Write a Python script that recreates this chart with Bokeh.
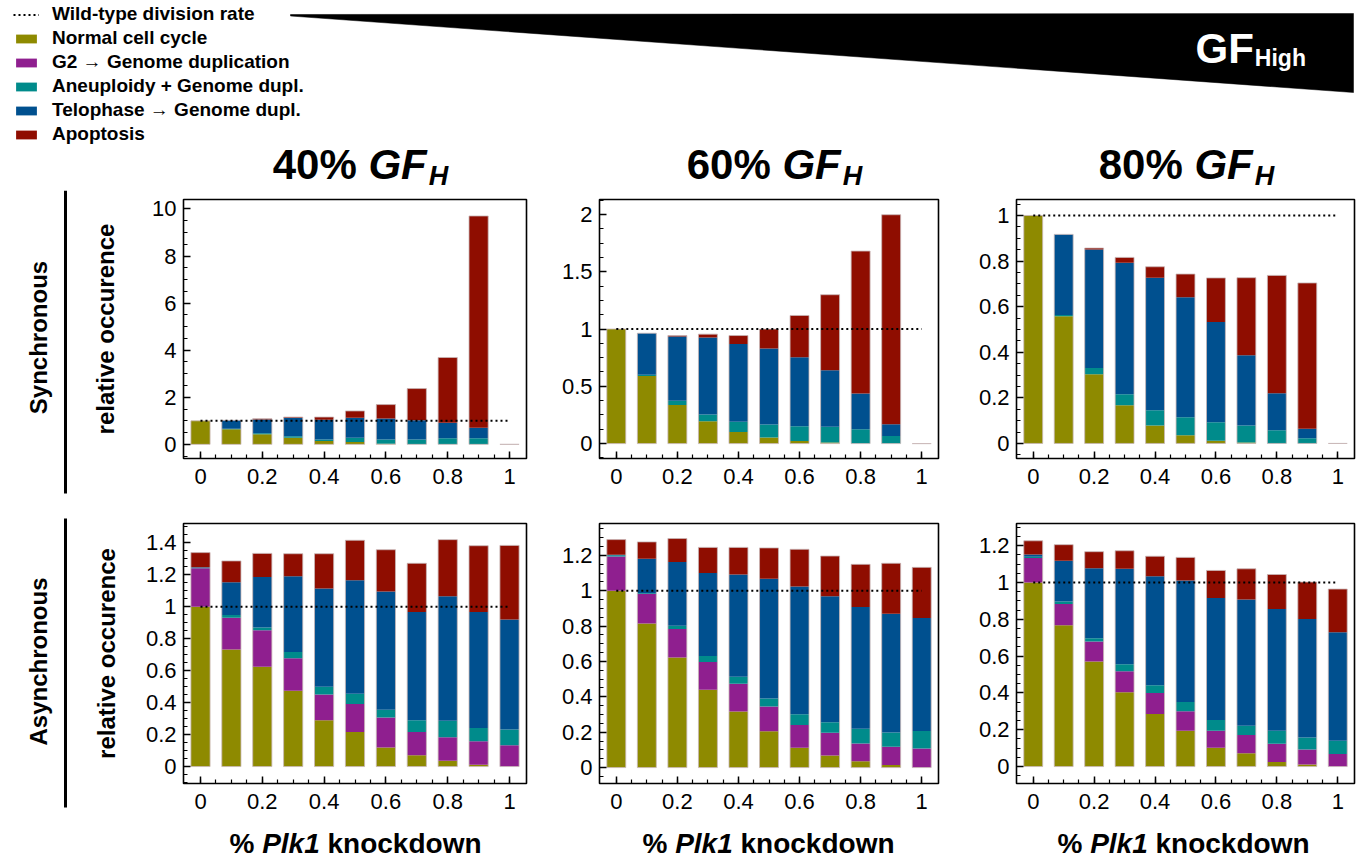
import numpy as np
from bokeh.plotting import figure
from bokeh.layouts import row, column
from bokeh.models import (FixedTicker, CustomJSTickFormatter, Legend, LegendItem, Range1d)
from bokeh.embed import file_html
from bokeh.resources import INLINE
from bokeh.core.properties import value

# ---------------- data ----------------
KNOCKDOWN = [0.0, 0.1, 0.2, 0.3, 0.4, 0.5, 0.6, 0.7, 0.8, 0.9, 1.0]
WT_RATE = 1.0
SERIES = ["Normal cell cycle", "G2 \u2192 Genome duplication", "Aneuploidy + Genome dupl.",
          "Telophase \u2192 Genome dupl.", "Apoptosis"]
COLORS = ["#8e8a00", "#8f1f8f", "#008b8b", "#00508f", "#8f0d00"]
WT_LABEL = "Wild-type division rate"
GF_LEVELS = ["40%", "60%", "80%"]
ROW_LABELS = ["Synchronous", "Asynchronous"]

# cumulative stack tops, bottom to top: normal, G2, aneuploidy, telophase, apoptosis
sync40_normal = [1.00, 0.64, 0.43, 0.28, 0.14, 0.10, 0.03, 0.01, 0.00, 0.00, 0.00]
sync40_g2     = [1.00, 0.64, 0.43, 0.28, 0.14, 0.10, 0.03, 0.01, 0.00, 0.00, 0.00]
sync40_aneu   = [1.00, 0.66, 0.47, 0.35, 0.21, 0.28, 0.21, 0.21, 0.26, 0.26, 0.00]
sync40_telo   = [1.00, 1.02, 1.06, 1.13, 1.05, 1.13, 1.10, 1.02, 0.92, 0.71, 0.00]
sync40_apop   = [1.00, 1.02, 1.09, 1.16, 1.16, 1.42, 1.69, 2.37, 3.69, 9.70, 0.00]

sync60_normal = [1.00, 0.590, 0.336, 0.196, 0.102, 0.053, 0.023, 0.009, 0.0, 0.0, 0.0]
sync60_g2     = [1.00, 0.590, 0.336, 0.196, 0.102, 0.053, 0.023, 0.009, 0.0, 0.0, 0.0]
sync60_aneu   = [1.00, 0.600, 0.374, 0.254, 0.190, 0.166, 0.152, 0.146, 0.126, 0.067, 0.0]
sync60_telo   = [1.00, 0.963, 0.934, 0.926, 0.870, 0.829, 0.753, 0.639, 0.438, 0.169, 0.0]
sync60_apop   = [1.00, 0.963, 0.943, 0.955, 0.943, 0.999, 1.118, 1.299, 1.680, 1.997, 0.0]

sync80_normal = [1.0, 0.558, 0.304, 0.168, 0.079, 0.036, 0.012, 0.004, 0.0, 0.0, 0.0]
sync80_g2     = [1.0, 0.558, 0.304, 0.168, 0.079, 0.036, 0.012, 0.004, 0.0, 0.0, 0.0]
sync80_aneu   = [1.0, 0.563, 0.331, 0.216, 0.146, 0.115, 0.093, 0.079, 0.058, 0.023, 0.0]
sync80_telo   = [1.0, 0.917, 0.851, 0.793, 0.727, 0.641, 0.533, 0.387, 0.220, 0.064, 0.0]
sync80_apop   = [1.0, 0.917, 0.857, 0.816, 0.775, 0.743, 0.726, 0.727, 0.737, 0.704, 0.0]

async40_normal = [1.000, 0.732, 0.624, 0.474, 0.289, 0.216, 0.119, 0.071, 0.037, 0.012, 0.000]
async40_g2     = [1.240, 0.930, 0.853, 0.678, 0.451, 0.391, 0.306, 0.216, 0.183, 0.158, 0.133]
async40_aneu   = [1.243, 0.947, 0.870, 0.716, 0.499, 0.456, 0.356, 0.289, 0.287, 0.241, 0.231]
async40_telo   = [1.246, 1.152, 1.186, 1.190, 1.113, 1.165, 1.094, 0.967, 1.065, 0.967, 0.919]
async40_apop   = [1.338, 1.286, 1.333, 1.331, 1.331, 1.415, 1.356, 1.271, 1.419, 1.381, 1.383]

async60_normal = [1.000, 0.815, 0.622, 0.440, 0.317, 0.205, 0.112, 0.068, 0.036, 0.015, 0.000]
async60_g2     = [1.194, 0.982, 0.783, 0.597, 0.474, 0.345, 0.241, 0.197, 0.136, 0.118, 0.108]
async60_aneu   = [1.200, 0.986, 0.802, 0.631, 0.514, 0.390, 0.301, 0.256, 0.220, 0.199, 0.207]
async60_telo   = [1.204, 1.181, 1.162, 1.100, 1.092, 1.067, 1.024, 0.969, 0.908, 0.870, 0.846]
async60_apop   = [1.289, 1.276, 1.295, 1.245, 1.245, 1.242, 1.234, 1.196, 1.149, 1.155, 1.132]

async80_normal = [1.000, 0.767, 0.571, 0.404, 0.285, 0.194, 0.102, 0.072, 0.025, 0.011, 0.000]
async80_g2     = [1.133, 0.883, 0.679, 0.517, 0.399, 0.300, 0.194, 0.171, 0.124, 0.092, 0.068]
async80_aneu   = [1.140, 0.896, 0.697, 0.555, 0.442, 0.350, 0.253, 0.221, 0.194, 0.158, 0.140]
async80_telo   = [1.151, 1.118, 1.077, 1.074, 1.034, 1.011, 0.916, 0.907, 0.856, 0.801, 0.729]
async80_apop   = [1.226, 1.205, 1.167, 1.172, 1.142, 1.136, 1.065, 1.074, 1.043, 1.002, 0.964]

X_TICKS = [0, 0.2, 0.4, 0.6, 0.8, 1]
Y_TICKS = {
    "s40": [0, 2, 4, 6, 8, 10],
    "s60": [0, 0.5, 1, 1.5, 2],
    "s80": [0, 0.2, 0.4, 0.6, 0.8, 1],
    "a40": [0, 0.2, 0.4, 0.6, 0.8, 1, 1.2, 1.4],
    "a60": [0, 0.2, 0.4, 0.6, 0.8, 1, 1.2],
    "a80": [0, 0.2, 0.4, 0.6, 0.8, 1, 1.2],
}

# ---------------- styling ----------------
FONT = "Liberation Sans"
BAR_W = 0.062
HB = {'0': 556, '1': 556, '2': 556, '3': 556, '4': 556, '5': 556, '6': 556, '7': 556, '8': 556,
      '9': 556, '%': 889, ' ': 278, 'G': 778, 'F': 611, 'H': 722, 'P': 667, 'l': 278, 'k': 556,
      'n': 611, 'o': 611, 'c': 556, 'w': 778, 'd': 611, 'i': 278, 'g': 611, 'h': 611}


def tw(s, size):
    return sum(HB.get(ch, 556) for ch in s) * size / 1000.0


fmt = CustomJSTickFormatter(code="return String(Math.round(tick*1000)/1000);")


def minor_list(ticks, lo, hi):
    step = (ticks[1] - ticks[0]) / 4.0
    return [v for v in np.arange(ticks[0] - 4 * step, ticks[-1] + 4 * step + 1e-9, step) if lo <= v <= hi]


def panel(tops, yr, yticks, width, mbl, mbr, height, mbt, mbb, ylabel=None, lab_standoff=20):
    p = figure(width=width, height=height, x_range=Range1d(-0.055, 1.055), y_range=Range1d(*yr),
               min_border_left=mbl, min_border_right=mbr, min_border_top=mbt, min_border_bottom=mbb,
               toolbar_location=None, tools="", output_backend="svg")
    p.xgrid.visible = False
    p.ygrid.visible = False
    p.outline_line_color = "black"
    p.outline_line_width = 1.6
    p.background_fill_color = "white"
    prev = [0.0] * len(KNOCKDOWN)
    for t, c in zip(tops, COLORS):
        p.vbar(x=KNOCKDOWN, bottom=prev, top=t, width=BAR_W, fill_color=c, line_color=None)
        prev = t
    p.vbar(x=KNOCKDOWN, bottom=0, top=prev, width=BAR_W, fill_color=None,
           line_color="#c8b6b6", line_width=0.8)
    p.line(x=[KNOCKDOWN[0], KNOCKDOWN[-1]], y=[WT_RATE, WT_RATE], line_dash="2 3",
           line_width=2, line_color="black")
    p.xaxis.ticker = FixedTicker(ticks=X_TICKS, minor_ticks=list(np.arange(0, 1.0001, 0.05)))
    p.yaxis.ticker = FixedTicker(ticks=yticks, minor_ticks=minor_list(yticks, yr[0], yr[1]))
    for ax in (p.xaxis[0], p.yaxis[0]):
        ax.formatter = fmt
        ax.axis_line_color = None
        ax.major_tick_in = 7
        ax.major_tick_out = 0
        ax.minor_tick_in = 4
        ax.minor_tick_out = 0
        ax.major_tick_line_width = 1.5
        ax.minor_tick_line_width = 1.2
        ax.major_tick_line_color = "black"
        ax.minor_tick_line_color = "black"
        ax.major_label_text_font = FONT
        ax.major_label_text_font_size = "22px"
        ax.major_label_text_color = "black"
    p.xaxis.major_label_standoff = 10
    p.yaxis.major_label_standoff = 7
    if ylabel:
        p.yaxis.axis_label = ylabel
        p.yaxis.axis_label_text_font = FONT
        p.yaxis.axis_label_text_font_size = "24px"
        p.yaxis.axis_label_text_font_style = "bold"
        p.yaxis.axis_label_text_color = "black"
        p.yaxis.axis_label_standoff = lab_standoff
    return p


# column geometry (width, min_border_left, min_border_right) -- page starts at x=0
COLS = [(476, 103, 30), (419, 43, 37), (386, 38, 7)]
R1 = (323, 9, 55)     # page y 190..513, frame 199..458
R2 = (305, 10, 35)    # page y 513..818, frame 523..783

sync_tops = [
    [sync40_normal, sync40_g2, sync40_aneu, sync40_telo, sync40_apop],
    [sync60_normal, sync60_g2, sync60_aneu, sync60_telo, sync60_apop],
    [sync80_normal, sync80_g2, sync80_aneu, sync80_telo, sync80_apop],
]
async_tops = [
    [async40_normal, async40_g2, async40_aneu, async40_telo, async40_apop],
    [async60_normal, async60_g2, async60_aneu, async60_telo, async60_apop],
    [async80_normal, async80_g2, async80_aneu, async80_telo, async80_apop],
]
sync_yr = [(-0.6, 10.4), (-0.13, 2.13), (-0.066, 1.07)]
async_yr = [(-0.106, 1.52), (-0.09, 1.38), (-0.092, 1.32)]
sync_keys = ["s40", "s60", "s80"]
async_keys = ["a40", "a60", "a80"]

row1 = []
row2 = []
for i in range(3):
    w, l, r = COLS[i]
    row1.append(panel(sync_tops[i], sync_yr[i], Y_TICKS[sync_keys[i]], w, l, r, *R1,
                      ylabel="relative occurence" if i == 0 else None, lab_standoff=30))
    row2.append(panel(async_tops[i], async_yr[i], Y_TICKS[async_keys[i]], w, l, r, *R2,
                      ylabel="relative occurence" if i == 0 else None, lab_standoff=23))


def blank(width, height, xr, yr):
    p = figure(width=width, height=height, x_range=Range1d(*xr), y_range=Range1d(*yr),
               min_border=0, toolbar_location=None, tools="", output_backend="svg",
               x_axis_location=None, y_axis_location=None)
    p.grid.visible = False
    p.outline_line_color = None
    return p


FULL_W = 1361
# ---------------- header (page y 0..190) ----------------
HDR_H = 190
hdr = blank(FULL_W, HDR_H, (0, FULL_W), (0, HDR_H))


def py(y):  # page y -> header data y
    return HDR_H - y


def htext(fig, x, y, t, size, style, color="black"):
    # y is the vertical centre of the capital letters (page pixels)
    fig.text(x=[x], y=[y], text=[t], text_font=value(FONT), text_font_size=f"{size}px",
             text_font_style=style, text_color=color, text_baseline="middle", text_align="left")


# wedge
hdr.patch(x=[290, 1353, 1353, 290], y=[py(14), py(13), py(92), py(15.5)],
          fill_color="black", line_color="black", line_width=0.5)
GF_F = 42
htext(hdr, 1195, py(48), "GF", GF_F, "bold", "white")
htext(hdr, 1195 + tw("GF", GF_F) + 1, py(57), "High", 23, "bold", "white")

# column titles
TITLE_F = 42
SUB_F = 27
title_centers = [360, 774, 1186]
for lvl, cx in zip(GF_LEVELS, title_centers):
    total = tw(lvl, TITLE_F) + tw(" ", TITLE_F) + tw("GF", TITLE_F) + 2 + tw("H", SUB_F)
    x0 = cx - total / 2
    htext(hdr, x0, py(164), lvl, TITLE_F, "bold")
    x1 = x0 + tw(lvl, TITLE_F) + tw(" ", TITLE_F)
    htext(hdr, x1, py(164), "GF", TITLE_F, "bold italic")
    x2 = x1 + tw("GF", TITLE_F) + 2
    htext(hdr, x2, py(175), "H", SUB_F, "bold italic")

# legend (renderers hold one off-screen point so that their legend glyphs are drawn)
wt_r = hdr.line(x=[-100, -90], y=[-100, -100], line_dash="2 3", line_width=2, line_color="black")
bar_rs = [hdr.vbar(x=[-100], bottom=[-100], top=[-90], width=1, fill_color=c, line_color=None)
          for c in COLORS]
items = [LegendItem(label=WT_LABEL, renderers=[wt_r])]
items += [LegendItem(label=s, renderers=[r]) for s, r in zip(SERIES, bar_rs)]
LEG_ROW = 24
leg = Legend(items=items, location=(13, HDR_H - 2 - 6 * LEG_ROW), orientation="vertical",
             glyph_width=26, glyph_height=11, label_standoff=13, spacing=0, padding=0, margin=0,
             border_line_color=None, background_fill_alpha=0, label_height=LEG_ROW,
             label_text_font=FONT, label_text_font_size="19px", label_text_font_style="bold",
             label_text_color="black")
hdr.add_layout(leg)

# ---------------- strip with row labels (page y 190..818) ----------------
STRIP_W = 80
MID_H = R1[0] + R2[0]
strip = blank(STRIP_W, MID_H, (0, STRIP_W), (0, MID_H))


def sy(y):
    return 818 - y


strip.line(x=[65, 65], y=[sy(190), sy(493)], line_width=3, line_color="black")
strip.line(x=[65, 65], y=[sy(518), sy(807)], line_width=3, line_color="black")
strip.text(x=[38, 38], y=[sy(337), sy(661)], text=ROW_LABELS, angle=np.pi / 2,
           text_font=value(FONT), text_font_size="24px", text_font_style="bold",
           text_color="black", text_align="center", text_baseline="middle")

# ---------------- footer (page y 818..859) ----------------
FTR_H = 41
ftr = blank(FULL_W, FTR_H, (0, FULL_W), (0, FTR_H))
XL_F = 28
for cx in [355, 768, 1183]:
    total = tw("% Plk1 knockdown", XL_F)
    x0 = cx - total / 2
    parts = [("%", "bold", 0.0), ("Plk1", "bold italic", tw("% ", XL_F)),
             ("knockdown", "bold", tw("% Plk1 ", XL_F))]
    for t, style, off in parts:
        htext(ftr, x0 + off, 859 - 843, t, XL_F, style)

layout = column(hdr, row(strip, column(row(*row1), row(*row2))), ftr)

open("out.html", "w").write(file_html(layout, INLINE))
